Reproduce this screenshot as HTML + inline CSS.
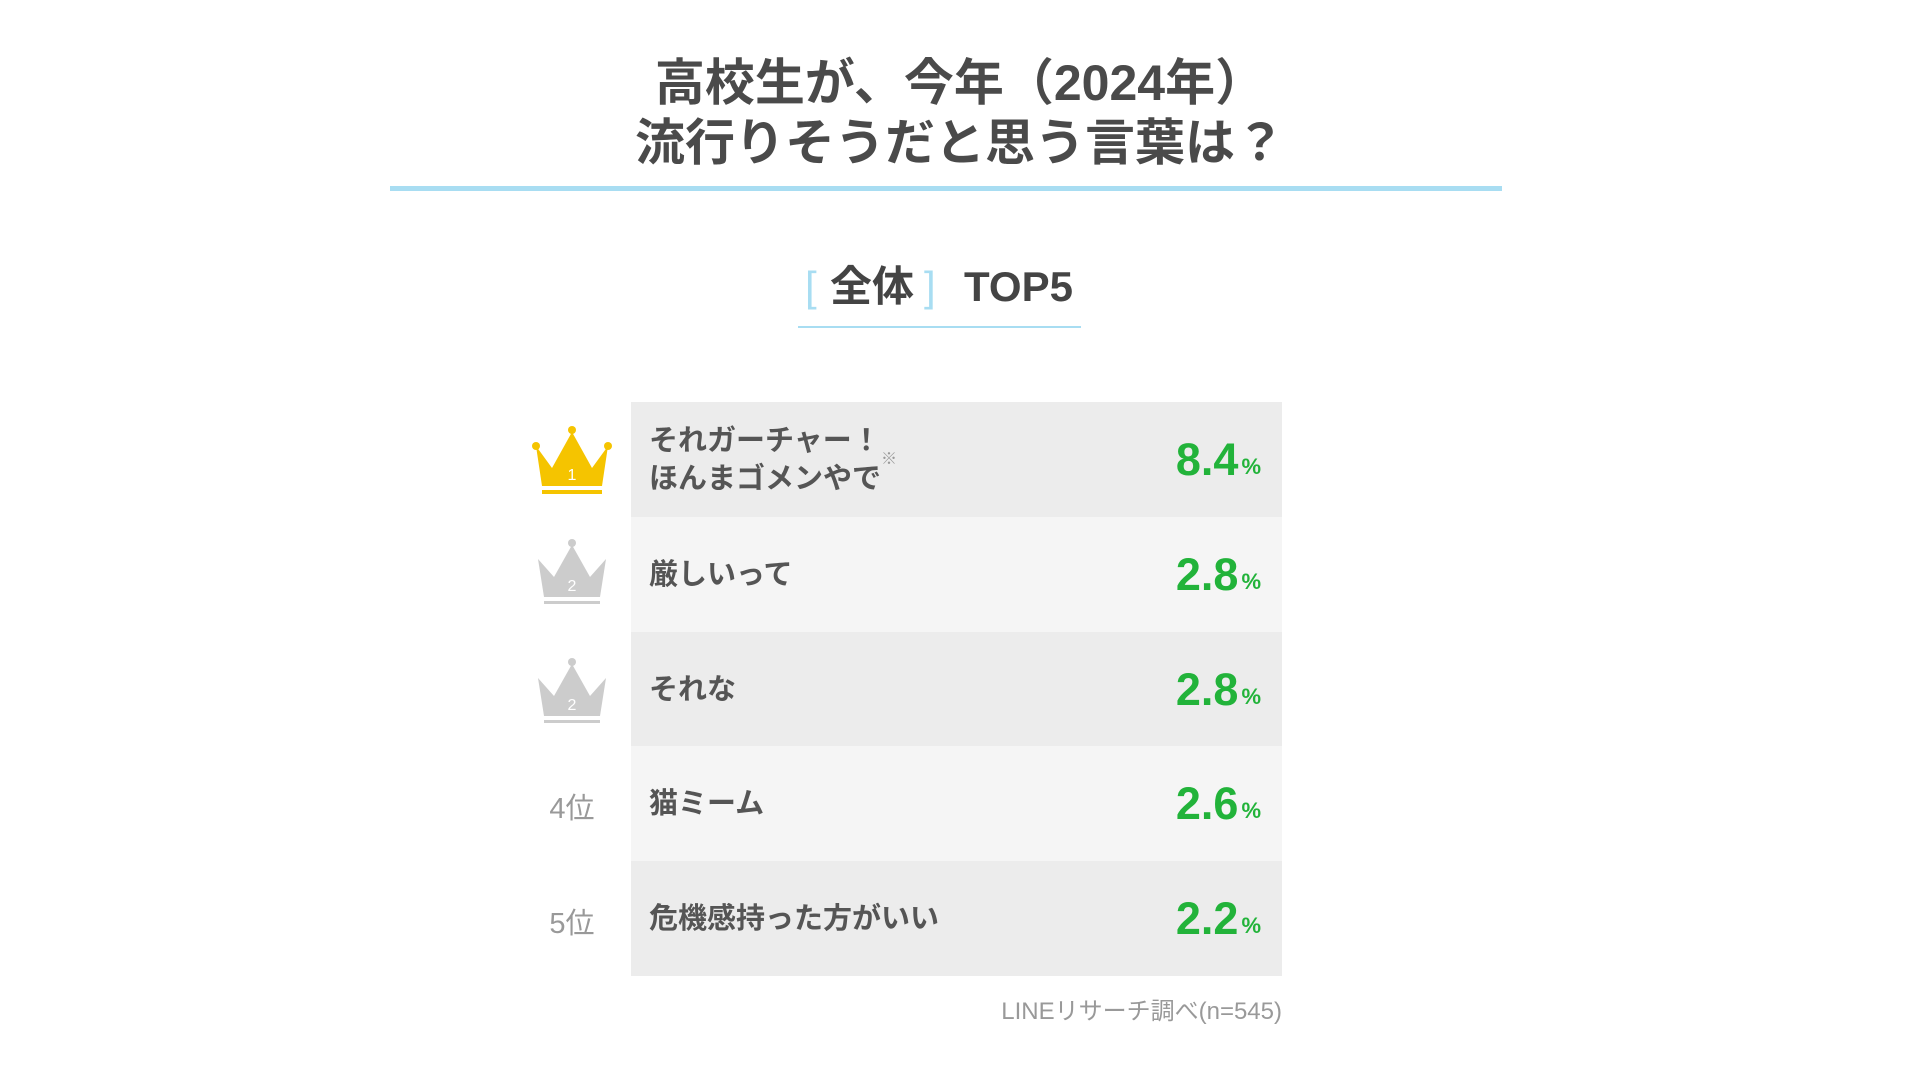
<!DOCTYPE html>
<html><head><meta charset="utf-8"><style>
body{margin:0;width:1920px;height:1080px;background:#fff;font-family:"Liberation Sans","Noto Sans CJK JP",sans-serif;position:relative;overflow:hidden;color:#444}
.t{position:absolute;left:0;width:1920px;text-align:center;font-size:50px;font-weight:bold;color:#4a4a4a;line-height:60px}
.row{position:absolute;left:631px;width:651px;height:115px}
.lab{position:absolute;left:18px;top:0;height:115px;display:flex;align-items:center;font-size:29px;font-weight:bold;color:#555;line-height:38px}
.num{position:absolute;right:21px;top:0;height:115px;display:flex;align-items:center;font-size:45px;font-weight:bold;color:#22b33a}
.num small{font-size:22px;margin-left:3px;margin-top:14px}
.ic{position:absolute;left:532px;width:80px;text-align:center}
.rk{position:absolute;left:532px;width:80px;text-align:center;font-size:29px;color:#999}
.s{position:absolute;top:262px;font-size:42px;font-weight:bold;color:#444;line-height:50px}
</style></head><body>
<div class="t" style="top:53px">高校生が、今年（2024年）</div>
<div class="t" style="top:113px">流行りそうだと思う言葉は？</div>
<div style="position:absolute;left:390px;top:186px;width:1112px;height:5px;background:#a8ddf2"></div>
<div class="s" style="left:805px;color:#a8ddf2;font-weight:normal">[</div>
<div class="s" style="left:830px">全体</div>
<div class="s" style="left:924px;color:#a8ddf2;font-weight:normal">]</div>
<div class="s" style="left:964px">TOP5</div>
<div style="position:absolute;left:798px;top:326px;width:283px;height:2px;background:#a8ddf2"></div>

<div class="row" style="top:402px;background:#ececec"><div class="lab">それガーチャー！<br>ほんまゴメンやで<sup style="font-size:16px;color:#999">※</sup></div><div class="num">8.4<small>%</small></div></div>
<div class="row" style="top:517px;background:#f5f5f5"><div class="lab">厳しいって</div><div class="num">2.8<small>%</small></div></div>
<div class="row" style="top:632px;background:#ececec"><div class="lab">それな</div><div class="num">2.8<small>%</small></div></div>
<div class="row" style="top:746px;background:#f5f5f5"><div class="lab">猫ミーム</div><div class="num">2.6<small>%</small></div></div>
<div class="row" style="top:861px;background:#ececec"><div class="lab">危機感持った方がいい</div><div class="num">2.2<small>%</small></div></div>

<svg class="ic" style="top:424px" width="80" height="75" viewBox="0 0 80 75"><path d="M4 22 L20 44 L40 8 L60 44 L76 22 L70 62 L10 62 Z" fill="#f5c400"/><circle cx="4" cy="22" r="4" fill="#f5c400"/><circle cx="76" cy="22" r="4" fill="#f5c400"/><circle cx="40" cy="6" r="4" fill="#f5c400"/><rect x="10" y="66" width="60" height="4" fill="#f5c400"/><text x="40" y="56" font-size="16" fill="#fff" text-anchor="middle">1</text></svg>
<svg class="ic" style="top:535px" width="80" height="75" viewBox="0 0 80 75"><path d="M6 24 L22 42 L40 10 L58 42 L74 24 L68 62 L12 62 Z" fill="#ccc"/><circle cx="40" cy="8" r="4" fill="#ccc"/><rect x="12" y="66" width="56" height="3" fill="#ccc"/><text x="40" y="56" font-size="16" fill="#fff" text-anchor="middle">2</text></svg>
<svg class="ic" style="top:654px" width="80" height="75" viewBox="0 0 80 75"><path d="M6 24 L22 42 L40 10 L58 42 L74 24 L68 62 L12 62 Z" fill="#ccc"/><circle cx="40" cy="8" r="4" fill="#ccc"/><rect x="12" y="66" width="56" height="3" fill="#ccc"/><text x="40" y="56" font-size="16" fill="#fff" text-anchor="middle">2</text></svg>
<div class="rk" style="top:785px">4位</div>
<div class="rk" style="top:900px">5位</div>
<div style="position:absolute;right:638px;top:991px;font-size:24px;color:#999">LINEリサーチ調べ(n=545)</div>
</body></html>
